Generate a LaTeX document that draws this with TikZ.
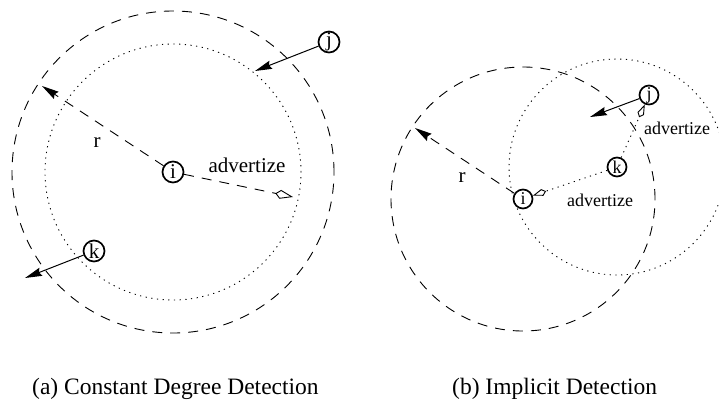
\documentclass[tikz,border=0pt]{standalone}
\usepackage{fontspec}
\setmainfont{Liberation Serif}
\usetikzlibrary{arrows.meta}

\begin{document}
\begin{tikzpicture}[x=1pt, y=-1pt,
    every node/.style = {font=\fontsize{21}{24}\selectfont, inner sep=0pt},
    peer/.style       = {draw, circle, line width=1.7pt, minimum size=21pt,
                         inner sep=0pt},
    peersm/.style     = {peer, minimum size=19pt,
                         font=\fontsize{18}{20}\selectfont},
    smlabel/.style    = {font=\fontsize{18}{20}\selectfont},
    caption/.style    = {anchor=base west, font=\fontsize{23.5}{26}\selectfont},
    rangeln/.style    = {line width=0.9pt, dash pattern=on 10pt off 8pt},
    reachln/.style    = {line width=0.9pt, dash pattern=on 1.2pt off 4.5pt},
    tip/.style        = {-{Stealth[length=17pt, width=8.5pt, inset=2pt]}},
    move/.style       = {line width=1pt, tip},
    adv/.style        = {line width=0.9pt,
                         -{Kite[open, length=18pt, width=9pt, inset=5pt]}},
    advsm/.style      = {line width=0.9pt,
                         -{Kite[open, length=14pt, width=7pt, inset=4pt]}}]

    \useasboundingbox (0,0) rectangle (719,407);

    % (a) constant degree detection
    \node[peer] (ia) at (173,172) {i};
    \node[peer] (ja) at (329,42)  {j};
    \node[peer] (ka) at (94,251)  {k};

    \coordinate (ja-end)  at (255,71);
    \coordinate (ka-end)  at (25,278);
    \coordinate (ra-end)  at (42,86);
    \coordinate (adva-end) at (293,197);

    \draw[rangeln] (ia.center) circle[radius=161pt];
    \draw[reachln] (ia.center) circle[radius=128pt];

    \draw[rangeln, tip] (ia) -- (ra-end);
    \draw[rangeln, adv] (ia) -- (adva-end);
    \draw[move] (ja) -- (ja-end);
    \draw[move] (ka) -- (ka-end);

    \node (ra)   at (97,143)  {r};
    \node (adva) at (247,165) {advertize};

    % (b) implicit detection
    \node[peersm] (ib) at (523,199) {i};
    \node[peersm] (jb) at (649,95)  {j};
    \node[peersm] (kb) at (617,167) {k};

    \coordinate (jb-end) at (590,117);
    \coordinate (rb-end) at (415,128);

    \draw[rangeln] (ib.center) circle[radius=132pt];
    \draw[reachln] (kb.center) circle[radius=108pt];

    \draw[rangeln, tip] (ib) -- (rb-end);
    \draw[move] (jb) -- (jb-end);
    \draw[reachln, advsm] (kb) -- (jb);
    \draw[reachln, advsm] (kb) -- (ib);

    \node (rb)    at (462,178) {r};
    \node[smlabel] (advb1) at (677,128) {advertize};
    \node[smlabel] (advb2) at (600,200) {advertize};

    % captions
    \node[caption] (capa) at (32,394)  {(a) Constant Degree Detection};
    \node[caption] (capb) at (452,394) {(b) Implicit Detection};
\end{tikzpicture}
\end{document}
